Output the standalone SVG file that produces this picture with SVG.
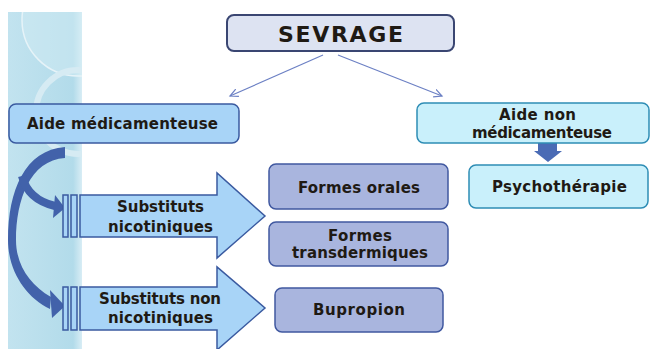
<svg xmlns="http://www.w3.org/2000/svg" width="652" height="349" viewBox="0 0 652 349">
<defs>
<marker id="ah" markerWidth="10" markerHeight="10" refX="8" refY="5" orient="auto" markerUnits="userSpaceOnUse">
<path d="M0,1 L8,5 L0,9" fill="none" stroke="#6c80c4" stroke-width="1.2"/>
</marker>
<linearGradient id="strip" x1="0" y1="0" x2="1" y2="0">
<stop offset="0" stop-color="#c2e3ef"/>
<stop offset="0.88" stop-color="#b2dbea"/>
<stop offset="1" stop-color="#d8edf5"/>
</linearGradient>
</defs>
<style>
text{font-family:"DejaVu Sans","Liberation Sans",sans-serif;font-weight:bold;fill:#1f1a14;text-anchor:middle}
.t{font-size:15px}
.lb{fill:#a8d4f7;stroke:#3a5aa0;stroke-width:1.5}
.lav{fill:#a9b5de;stroke:#4058a0;stroke-width:1.5}
.cy{fill:#c9f0fb;stroke:#2e8db5;stroke-width:1.5}
.conn{stroke:#6c80c4;stroke-width:1.2;fill:none}
.curve{fill:none;stroke:#4262aa;stroke-linecap:butt}
.head{fill:#4262aa}
</style>
<rect width="652" height="349" fill="#ffffff"/>
<g id="background">
<rect x="8" y="12" width="74" height="337" fill="url(#strip)"/>
<circle cx="78" cy="20" r="56" fill="#d2ebf4" fill-opacity="0.5" stroke="#e6f3f8" stroke-width="1.5" clip-path="url(#clipStrip)"/>
<circle cx="78" cy="112" r="42" fill="none" stroke="#d6ebf3" stroke-width="6" clip-path="url(#clipStrip)"/>
<clipPath id="clipStrip"><rect x="8" y="12" width="74" height="337"/></clipPath>
</g>
<g id="connectors">
<line class="conn" x1="323" y1="55" x2="230" y2="96" marker-end="url(#ah)"/>
<line class="conn" x1="338" y1="55" x2="442" y2="96" marker-end="url(#ah)"/>
<polygon points="538,143 557,143 557,151 562,151 548,162 534,151 538,151" fill="#4a6bb5"/>
<path class="head" d="M 65 147 L 65 158 C 30 160, 16 200, 16 240 C 16 265, 30 285, 51 297 L 50 309 C 25 297, 8 270, 8 240 C 8 190, 25 150, 65 147 Z"/>
<polygon class="head" points="50,290 65,306 52,318"/>
<path class="curve" d="M 22 176 C 26 192, 38 202, 55 206" stroke-width="8"/>
<polygon class="head" points="55,195 65,208 53,218"/>
</g>
<g id="sevrage">
<rect x="227" y="15" width="227" height="36" rx="7" fill="#dde3f2" stroke="#3a4672" stroke-width="2"/>
<text x="340.5" y="42" font-size="22" textLength="125">SEVRAGE</text>
</g>
<g id="aide-medicamenteuse">
<rect class="lb" x="9" y="104" width="230" height="39" rx="7"/>
<text x="122.5" y="129" font-size="15" textLength="191">Aide médicamenteuse</text>
</g>
<g id="aide-non-medicamenteuse">
<rect class="cy" x="417" y="103" width="232" height="40" rx="7"/>
<text class="t" x="537.5" y="120" textLength="77">Aide non</text>
<text class="t" x="542" y="138" textLength="140">médicamenteuse</text>
</g>
<g id="psychotherapie">
<rect class="cy" x="469" y="165" width="179" height="43" rx="7"/>
<text class="t" x="559.5" y="192" textLength="135">Psychothérapie</text>
</g>
<g id="substituts-nicotiniques">
<rect class="lb" x="63" y="195" width="5" height="42"/>
<rect class="lb" x="71" y="195" width="6" height="42"/>
<polygon class="lb" points="80,195 217,195 217,173 265,216 217,258 217,237 80,237"/>
<text class="t" x="160.5" y="212" textLength="87">Substituts</text>
<text class="t" x="160.5" y="232" textLength="105">nicotiniques</text>
</g>
<g id="substituts-non-nicotiniques">
<rect class="lb" x="63" y="287" width="5" height="43"/>
<rect class="lb" x="71" y="287" width="6" height="43"/>
<polygon class="lb" points="80,287 217,287 217,267 265,308 217,350 217,330 80,330"/>
<text class="t" x="160" y="304" textLength="122">Substituts non</text>
<text class="t" x="160.5" y="323" textLength="105">nicotiniques</text>
</g>
<g id="formes-orales">
<rect class="lav" x="269" y="164" width="179" height="45" rx="7"/>
<text class="t" x="359" y="193" textLength="122">Formes orales</text>
</g>
<g id="formes-transdermiques">
<rect class="lav" x="269" y="222" width="179" height="44" rx="7"/>
<text class="t" x="360" y="241" textLength="64">Formes</text>
<text class="t" x="360" y="258" textLength="136">transdermiques</text>
</g>
<g id="bupropion">
<rect class="lav" x="275" y="288" width="168" height="44" rx="7"/>
<text class="t" x="359" y="315" textLength="92">Bupropion</text>
</g>
</svg>
